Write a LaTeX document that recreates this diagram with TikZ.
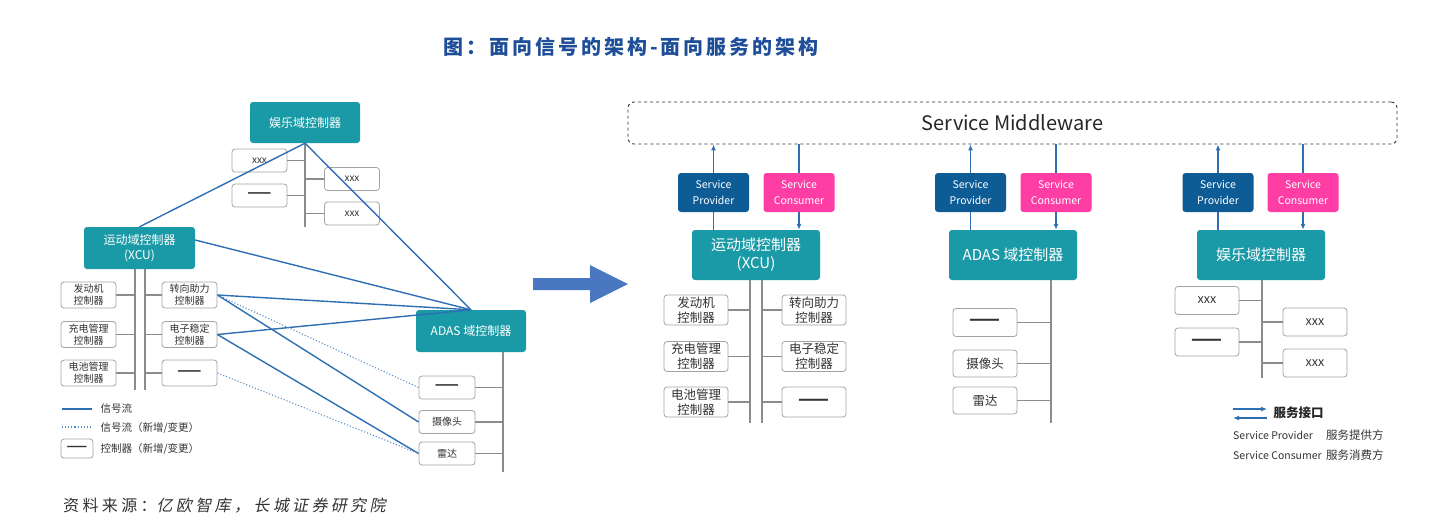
\documentclass[tikz,border=0pt]{standalone}
\usepackage{fontspec}
\setmainfont{Noto Sans CJK SC}
\newfontfamily\titlefont[LetterSpace=15]{Noto Sans CJK SC}
\newfontfamily\srcfont[LetterSpace=21]{Noto Sans CJK SC}
\newfontfamily\srcslant[LetterSpace=21,FakeSlant=0.2]{Noto Sans CJK SC}
\usetikzlibrary{arrows.meta}

\definecolor{domteal}{HTML}{1A9AA6}
\definecolor{provblue}{HTML}{0E5C96}
\definecolor{conspink}{HTML}{FF3EA5}
\definecolor{sigblue}{HTML}{2E6FB4}
\definecolor{busgray}{HTML}{8C8C8C}
\definecolor{titleblue}{HTML}{1F4E99}
\definecolor{bigarrow}{HTML}{4A78C0}
\definecolor{txtgray}{HTML}{333333}

\tikzset{
    dom/.style={fill=domteal, rounded corners=3pt, text=white, align=center, inner sep=0pt},
    sub/.style={draw=busgray!80, fill=white, rounded corners=3pt, text=txtgray, align=center, inner sep=0pt, line width=0.8pt},
    lsub/.style={sub, minimum width=55pt, minimum height=26pt, font=\fontsize{10}{12}\selectfont},
    rsub/.style={sub, minimum width=64pt, minimum height=30pt, font=\fontsize{12.5}{15}\selectfont},
    ldash/.style={font=\fontsize{14}{14}\selectfont\bfseries},
    rdash/.style={font=\fontsize{18}{18}\selectfont\bfseries},
    svc/.style={rounded corners=3pt, text=white, align=center, inner sep=0pt, minimum width=71pt, minimum height=39pt, font=\fontsize{10.5}{16}\selectfont},
    prov/.style={svc, fill=provblue},
    cons/.style={svc, fill=conspink},
    bus/.style={draw=busgray, line width=1.2pt},
    sig/.style={draw=sigblue, line width=1.4pt},
    newsig/.style={draw=sigblue!80, line width=1.1pt, dotted},
    link/.style={draw=sigblue, line width=1.4pt},
    up/.style={link, -{Latex[length=6pt,width=5pt]}}
}

\begin{document}
\begin{tikzpicture}[x=1pt, y=-1pt]
    \useasboundingbox (0,0) rectangle (1431,528);

    \node[text=titleblue, font=\fontsize{20}{20}\selectfont\titlefont\bfseries] (title) at (631,47) {图：面向信号的架构-面向服务的架构};

    % signal oriented
    \node[dom, minimum width=110pt, minimum height=41pt, font=\fontsize{12}{14}\selectfont] (ent) at (305,122.5) {娱乐域控制器};
    \node[lsub, minimum height=23pt] (xl1) at (259.5,160.5) {xxx};
    \node[lsub, ldash, minimum height=23pt] (xl2) at (259.5,195.5) {——};
    \node[lsub, minimum height=23pt] (xr1) at (352,179) {xxx};
    \node[lsub, minimum height=23pt] (xr2) at (352,213.5) {xxx};
    \coordinate (entbus) at (305,227);
    \draw[bus] (ent.south) -- (entbus);
    \foreach \n in {xl1,xl2} \draw[bus] (\n.east) -- (\n.east -| entbus);
    \foreach \n in {xr1,xr2} \draw[bus] (\n.west) -- (\n.west -| entbus);

    \node[dom, minimum width=111pt, minimum height=42pt, font=\fontsize{12}{15}\selectfont] (xcu) at (139.5,248) {运动域控制器\\(XCU)};
    \node[lsub] (l1) at (88.5,295) {发动机\\控制器};
    \node[lsub] (l2) at (88.5,334.5) {充电管理\\控制器};
    \node[lsub] (l3) at (88.5,373) {电池管理\\控制器};
    \node[lsub] (r1) at (189.5,295) {转向助力\\控制器};
    \node[lsub] (r2) at (189.5,334.5) {电子稳定\\控制器};
    \node[lsub, ldash] (r3) at (189.5,373) {——};
    \coordinate (xbusl) at (135,390);
    \coordinate (xbusr) at (145,390);
    \draw[bus] (xbusl |- xcu.south) -- (xbusl);
    \draw[bus] (xbusr |- xcu.south) -- (xbusr);
    \foreach \n in {l1,l2,l3} \draw[bus] (\n.east) -- (\n.east -| xbusl);
    \foreach \n in {r1,r2,r3} \draw[bus] (\n.west) -- (\n.west -| xbusr);

    \node[dom, minimum width=110pt, minimum height=42pt, font=\fontsize{12}{14}\selectfont] (adas) at (471,331) {ADAS 域控制器};
    \node[lsub, ldash, minimum width=56pt, minimum height=23pt] (a1) at (447,387.5) {——};
    \node[lsub, minimum width=56pt, minimum height=23pt] (a2) at (447,422) {摄像头};
    \node[lsub, minimum width=56pt, minimum height=23pt] (a3) at (447,453.5) {雷达};
    \coordinate (abus) at (503,472);
    \draw[bus] (abus |- adas.south) -- (abus);
    \foreach \n in {a1,a2,a3} \draw[bus] (\n.east) -- (\n.east -| abus);

    \draw[sig] (ent.south) -- (xcu.north);
    \draw[sig] (ent.south) -- (adas.north);
    \draw[sig] ([yshift=8pt]xcu.east) -- (adas.north);
    \draw[sig] (r1.east) -- (adas.north);
    \draw[sig] (r2.east) -- (adas.north);
    \draw[sig] (r1.east) -- (a2.west);
    \draw[sig] (r2.east) -- (a3.west);
    \draw[newsig] (r1.east) -- (a1.west);
    \draw[newsig] (r3.east) -- (a3.west);

    \coordinate (k1a) at (62,409);
    \coordinate (k1b) at (92,409);
    \coordinate (k2a) at (62,427);
    \coordinate (k2b) at (92,427);
    \draw[sig] (k1a) -- (k1b);
    \draw[newsig] (k2a) -- (k2b);
    \node[sub, minimum width=32pt, minimum height=19pt, font=\fontsize{12}{12}\selectfont\bfseries] (k3) at (77,448.5) {——};
    \node[anchor=west, text=txtgray, font=\fontsize{10.5}{12}\selectfont] (k1t) at (97,409) {信号流};
    \node[anchor=west, text=txtgray, font=\fontsize{10.5}{12}\selectfont] (k2t) at (97,428) {信号流（新增/变更）};
    \node[anchor=west, text=txtgray, font=\fontsize{10.5}{12}\selectfont] (k3t) at (97,448.5) {控制器（新增/变更）};

    \fill[bigarrow] (533,278) -- (590,278) -- (590,265) -- (628,284) -- (590,303) -- (590,290) -- (533,290) -- cycle;

    % service oriented
    \node[draw=txtgray, dashed, rounded corners=6pt, line width=0.9pt, minimum width=769pt, minimum height=42pt, inner sep=0pt, text=black!85, font=\fontsize{20}{22}\selectfont] (mw) at (1012.5,123) {Service Middleware};

    \node[prov] (p1) at (713.5,192.5) {Service\\Provider};
    \node[cons] (c1) at (799,192.5) {Service\\Consumer};
    \node[dom, minimum width=128pt, minimum height=50pt, font=\fontsize{15}{18}\selectfont] (xcu2) at (756,255) {运动域控制器\\(XCU)};
    \node[rsub] (L1) at (696,310) {发动机\\控制器};
    \node[rsub] (L2) at (696,356.5) {充电管理\\控制器};
    \node[rsub] (L3) at (696,402) {电池管理\\控制器};
    \node[rsub] (R1) at (814,310) {转向助力\\控制器};
    \node[rsub] (R2) at (814,356.5) {电子稳定\\控制器};
    \node[rsub, rdash] (R3) at (814,402) {——};
    \coordinate (sbusl) at (750,423);
    \coordinate (sbusr) at (762,423);
    \draw[bus] (sbusl |- xcu2.south) -- (sbusl);
    \draw[bus] (sbusr |- xcu2.south) -- (sbusr);
    \foreach \n in {L1,L2,L3} \draw[bus] (\n.east) -- (\n.east -| sbusl);
    \foreach \n in {R1,R2,R3} \draw[bus] (\n.west) -- (\n.west -| sbusr);

    \node[prov] (p2) at (970.5,192.5) {Service\\Provider};
    \node[cons] (c2) at (1056,192.5) {Service\\Consumer};
    \node[dom, minimum width=128pt, minimum height=50pt, font=\fontsize{15}{18}\selectfont] (adas2) at (1013,255) {ADAS 域控制器};
    \node[rsub, rdash, minimum height=28pt] (A1) at (985,322.5) {——};
    \node[rsub, minimum height=27pt] (A2) at (985,363.5) {摄像头};
    \node[rsub, minimum height=27pt] (A3) at (985,400.5) {雷达};
    \coordinate (sbusa) at (1051,423);
    \draw[bus] (sbusa |- adas2.south) -- (sbusa);
    \foreach \n in {A1,A2,A3} \draw[bus] (\n.east) -- (\n.east -| sbusa);

    \node[prov] (p3) at (1218,192.5) {Service\\Provider};
    \node[cons] (c3) at (1303,192.5) {Service\\Consumer};
    \node[dom, minimum width=128pt, minimum height=50pt, font=\fontsize{15}{18}\selectfont] (ent2) at (1261,255) {娱乐域控制器};
    \node[rsub, minimum height=28pt] (E1) at (1207,300.5) {xxx};
    \node[rsub, rdash, minimum height=28pt] (E2) at (1207,342) {——};
    \node[rsub, minimum height=28pt] (E3) at (1315,322) {xxx};
    \node[rsub, minimum height=28pt] (E4) at (1315,363) {xxx};
    \coordinate (sbuse) at (1262,378);
    \draw[bus] (sbuse |- ent2.south) -- (sbuse);
    \foreach \n in {E1,E2} \draw[bus] (\n.east) -- (\n.east -| sbuse);
    \foreach \n in {E3,E4} \draw[bus] (\n.west) -- (\n.west -| sbuse);

    \foreach \p/\c/\d in {p1/c1/xcu2, p2/c2/adas2, p3/c3/ent2} {
        \draw[up] (\p.north) -- (\p.north |- mw.south);
        \draw[link] (\p.south) -- (\p.south |- \d.north);
        \draw[link] (\c.north |- mw.south) -- (\c.north);
        \draw[up] (\c.south) -- (\c.south |- \d.north);
    }

    \coordinate (s1a) at (1233,409);
    \coordinate (s1b) at (1267,409);
    \coordinate (s2a) at (1233,418);
    \coordinate (s2b) at (1267,418);
    \draw[up] (s1a) -- (s1b);
    \draw[up] (s2b) -- (s2a);
    \node[anchor=west, text=black!85, font=\fontsize{12.5}{14}\selectfont\bfseries] (sk) at (1270,413) {服务接口};
    \node[anchor=west, text=txtgray, inner xsep=0pt, font=\fontsize{10.5}{12}\selectfont] (sp) at (1233,435) {Service Provider};
    \node[anchor=west, text=txtgray, inner xsep=0pt, font=\fontsize{11.5}{13}\selectfont] (spz) at (1326,435) {服务提供方};
    \node[anchor=west, text=txtgray, inner xsep=0pt, font=\fontsize{10.5}{12}\selectfont] (sc) at (1233,455) {Service Consumer};
    \node[anchor=west, text=txtgray, inner xsep=0pt, font=\fontsize{11.5}{13}\selectfont] (scz) at (1326,455) {服务消费方};

    \node[anchor=west, inner xsep=0pt, text=txtgray, font=\fontsize{16}{17}\selectfont] (src) at (63,506) {\srcfont 资料来源：\srcslant 亿欧智库，长城证券研究院};
\end{tikzpicture}
\end{document}
